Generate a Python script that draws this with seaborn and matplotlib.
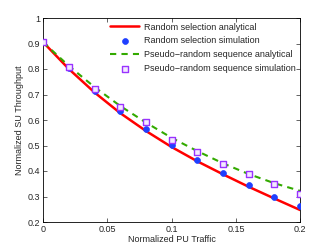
import numpy as np
import pandas as pd
import matplotlib
matplotlib.use("Agg")
import matplotlib.pyplot as plt
import seaborn as sns

# Normalized PU traffic (x)
traffic = [0.0, 0.02, 0.04, 0.06, 0.08, 0.10, 0.12, 0.14, 0.16, 0.18, 0.20]

# values
rand_analytical = [0.905, 0.800, 0.708, 0.627, 0.557, 0.494, 0.438, 0.387, 0.338, 0.292, 0.247]
rand_simulation = [0.905, 0.803, 0.714, 0.635, 0.563, 0.501, 0.444, 0.394, 0.345, 0.299, 0.264]
pseudo_analytical = [0.905, 0.812, 0.729, 0.655, 0.590, 0.530, 0.478, 0.430, 0.388, 0.352, 0.322]
pseudo_simulation = [0.905, 0.809, 0.723, 0.651, 0.593, 0.523, 0.475, 0.428, 0.388, 0.350, 0.311]

labels = ['Random selection analytical', 'Random selection simulation',
          'Pseudo\u2212random sequence analytical', 'Pseudo\u2212random sequence simulation']

df_ra = pd.DataFrame({'x': traffic, 'y': rand_analytical})
df_rs = pd.DataFrame({'x': traffic, 'y': rand_simulation})
df_pa = pd.DataFrame({'x': traffic, 'y': pseudo_analytical})
df_ps = pd.DataFrame({'x': traffic, 'y': pseudo_simulation})

sns.set_style('white')
plt.rcParams['font.family'] = ['Liberation Sans', 'DejaVu Sans']

fig = plt.figure(figsize=(3.32, 2.5), dpi=100)
ax = fig.add_axes([0.13, 0.112, 0.774, 0.816])

sns.lineplot(data=df_ra, x='x', y='y', ax=ax, color='#ff0000', linewidth=1.8, label=labels[0])
sns.scatterplot(data=df_rs, x='x', y='y', ax=ax, color='#1f3fff', s=18, edgecolor='#1f3fff',
                linewidth=0.5, label=labels[1], zorder=3)
sns.lineplot(data=df_pa, x='x', y='y', ax=ax, color='#33aa00', linewidth=1.5,
             linestyle=(0, (3, 2.5)), label=labels[2])
sns.scatterplot(data=df_ps, x='x', y='y', ax=ax, marker='s', s=15, facecolor='#f4eaff',
                edgecolor='#9933ff', linewidth=1.0, label=labels[3], zorder=4)

ax.set_xlim(0, 0.2)
ax.set_ylim(0.2, 1)
ax.set_xticks([0, 0.05, 0.1, 0.15, 0.2])
ax.set_xticklabels(['0', '0.05', '0.1', '0.15', '0.2'])
ax.set_yticks([0.2, 0.3, 0.4, 0.5, 0.6, 0.7, 0.8, 0.9, 1.0])
ax.set_yticklabels(['0.2', '0.3', '0.4', '0.5', '0.6', '0.7', '0.8', '0.9', '1'])
ax.tick_params(direction='in', length=3, width=0.5, labelsize=6.5, pad=2,
               top=True, right=True, bottom=True, left=True)
for s in ax.spines.values():
    s.set_color('black')
    s.set_linewidth(0.6)
    s.set_visible(True)

ax.set_xlabel('Normalized PU Traffic', fontsize=6.5, labelpad=1)
ax.set_ylabel('Normalized SU Throughput', fontsize=6.5, labelpad=3)

ax.legend(loc='upper right', frameon=False, fontsize=6.5, handlelength=3.2,
          handletextpad=0.5, labelspacing=0.55, borderaxespad=0.2, borderpad=0.3)

fig.savefig('out.png', dpi=100)
